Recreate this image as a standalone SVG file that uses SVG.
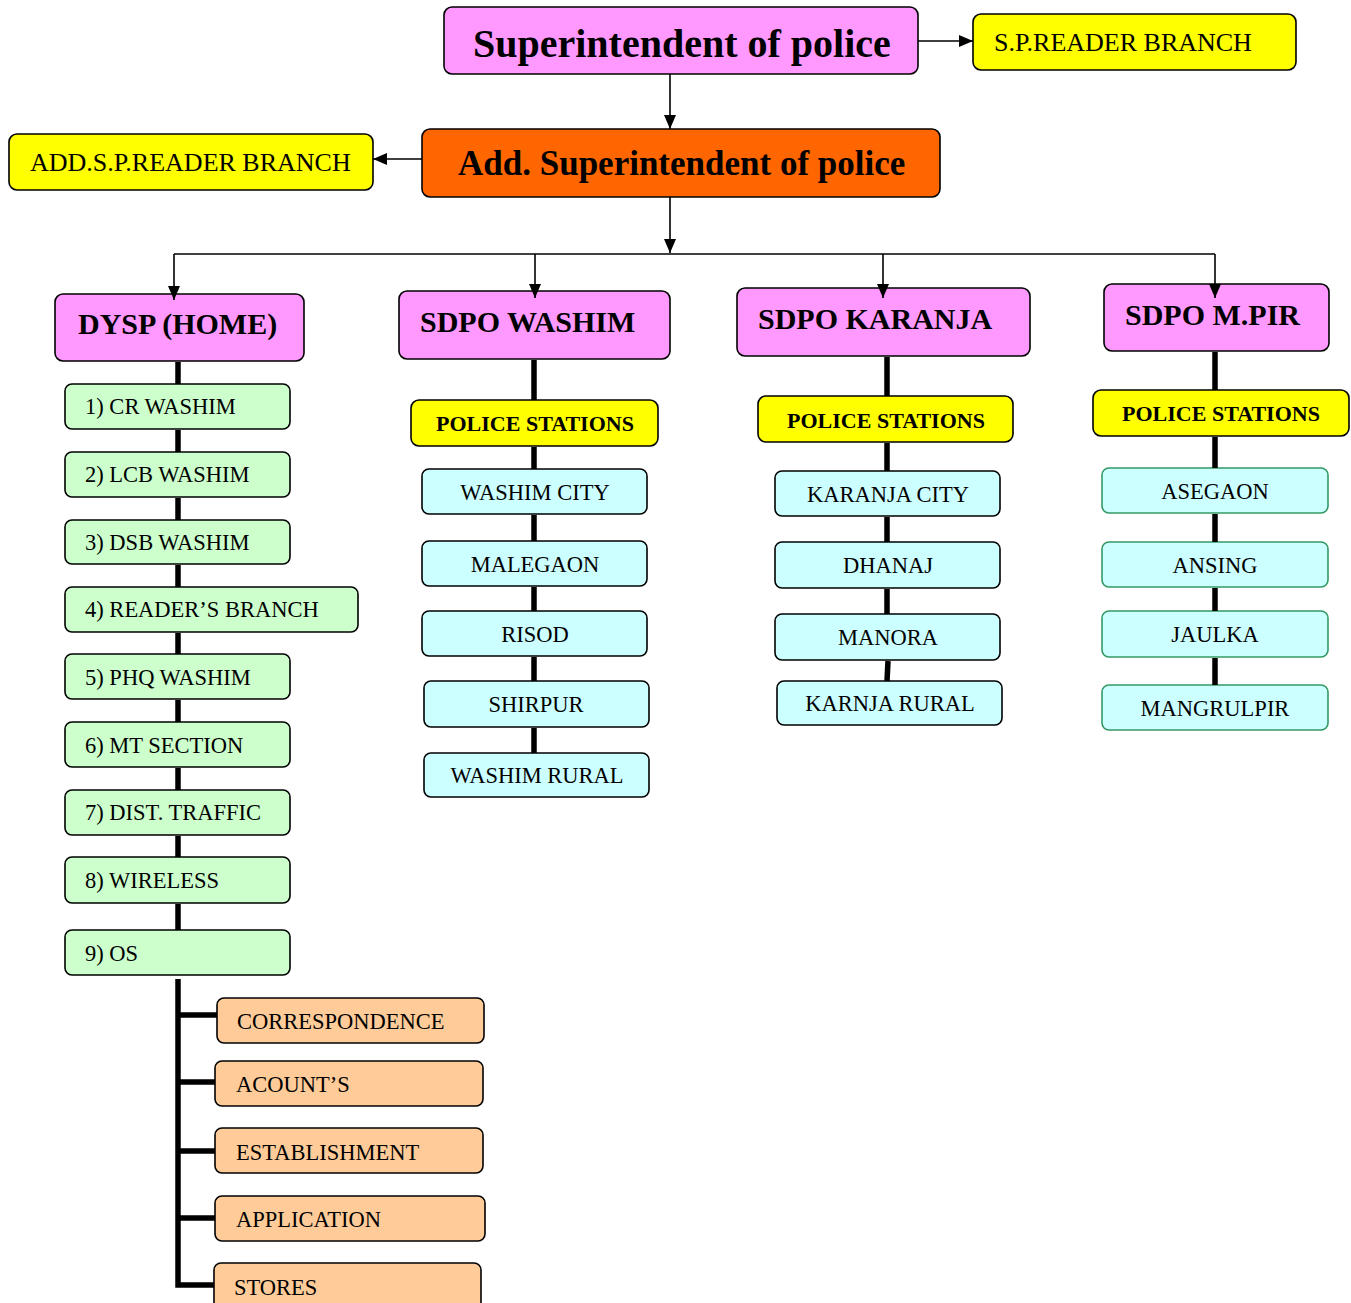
<svg xmlns="http://www.w3.org/2000/svg" width="1351" height="1303" viewBox="0 0 1351 1303">
<style>
rect{stroke:#000;stroke-width:1.6}
.pk{fill:#FF99FF}.or{fill:#FF6600}.ye{fill:#FFFF00}.gr{fill:#CCFFCC}.cy{fill:#CCFFFF}.cg{fill:#CCFFFF;stroke:#339966}.lo{fill:#FFCC99}
text{font-family:"Liberation Serif","Times New Roman",serif;fill:#000}
.h1{font-size:40px;font-weight:bold}
.h2{font-size:35px;font-weight:bold}
.h3{font-size:30px;font-weight:bold}
.ps{font-size:22px;font-weight:bold;text-anchor:middle}
.rd{font-size:26px}
.t{font-size:22.5px}
.c{font-size:22.5px;text-anchor:middle}
.thin{stroke:#000;stroke-width:1.6;fill:none}
.thick{stroke:#000;stroke-width:5.5;fill:none}
</style>
<defs>
<marker id="ah" viewBox="0 0 14 12" refX="14" refY="6" markerWidth="14" markerHeight="12" markerUnits="userSpaceOnUse" orient="auto">
<path d="M0,0 L14,6 L0,12 Z" fill="#000"/>
</marker>
</defs>
<g id="sp"><rect class="pk" x="444" y="7" width="474" height="67" rx="8"/><text class="h1" x="473" y="57">Superintendent of police</text></g>
<g id="sp-reader"><rect class="ye" x="973" y="14" width="323" height="56" rx="8"/><text class="rd" x="994" y="51">S.P.READER BRANCH</text></g>
<g id="asp"><rect class="or" x="422" y="129" width="518" height="68" rx="8"/><text class="h2" x="458" y="175">Add. Superintendent of police</text></g>
<g id="asp-reader"><rect class="ye" x="9" y="134" width="364" height="56" rx="8"/><text class="rd" x="30" y="171">ADD.S.P.READER BRANCH</text></g>
<g id="dysp"><rect class="pk" x="55" y="294" width="249" height="67" rx="8"/><text class="h3" x="78" y="334">DYSP (HOME)</text></g>
<g id="sdpo-washim"><rect class="pk" x="399" y="291" width="271" height="68" rx="8"/><text class="h3" x="420" y="332">SDPO WASHIM</text></g>
<g id="sdpo-karanja"><rect class="pk" x="737" y="288" width="293" height="68" rx="8"/><text class="h3" x="758" y="329">SDPO KARANJA</text></g>
<g id="sdpo-mpir"><rect class="pk" x="1104" y="284" width="225" height="67" rx="8"/><text class="h3" x="1125" y="325">SDPO M.PIR</text></g>
<g id="cr"><rect class="gr" x="65" y="384" width="225" height="45" rx="7"/><text class="t" x="85" y="414">1) CR WASHIM</text></g>
<g id="lcb"><rect class="gr" x="65" y="452" width="225" height="45" rx="7"/><text class="t" x="85" y="482">2) LCB WASHIM</text></g>
<g id="dsb"><rect class="gr" x="65" y="520" width="225" height="44" rx="7"/><text class="t" x="85" y="550">3) DSB WASHIM</text></g>
<g id="readers"><rect class="gr" x="65" y="587" width="293" height="45" rx="7"/><text class="t" x="85" y="617">4) READER’S BRANCH</text></g>
<g id="phq"><rect class="gr" x="65" y="654" width="225" height="45" rx="7"/><text class="t" x="85" y="685">5) PHQ WASHIM</text></g>
<g id="mt"><rect class="gr" x="65" y="722" width="225" height="45" rx="7"/><text class="t" x="85" y="753">6) MT SECTION</text></g>
<g id="traffic"><rect class="gr" x="65" y="790" width="225" height="45" rx="7"/><text class="t" x="85" y="820">7) DIST. TRAFFIC</text></g>
<g id="wireless"><rect class="gr" x="65" y="857" width="225" height="46" rx="7"/><text class="t" x="85" y="888">8) WIRELESS</text></g>
<g id="os"><rect class="gr" x="65" y="930" width="225" height="45" rx="7"/><text class="t" x="85" y="961">9) OS</text></g>
<g id="corr"><rect class="lo" x="217" y="998" width="267" height="45" rx="7"/><text class="t" x="237" y="1029">CORRESPONDENCE</text></g>
<g id="acc"><rect class="lo" x="215" y="1061" width="268" height="45" rx="7"/><text class="t" x="236" y="1092">ACOUNT’S</text></g>
<g id="est"><rect class="lo" x="215" y="1128" width="268" height="45" rx="7"/><text class="t" x="236" y="1160">ESTABLISHMENT</text></g>
<g id="app"><rect class="lo" x="215" y="1196" width="270" height="45" rx="7"/><text class="t" x="236" y="1227">APPLICATION</text></g>
<g id="stores"><rect class="lo" x="214" y="1263" width="267" height="50" rx="7"/><text class="t" x="234" y="1295">STORES</text></g>
<g id="ps-washim"><rect class="ye" x="411" y="400" width="247" height="46" rx="8"/><text class="ps" x="535" y="431">POLICE STATIONS</text></g>
<g id="washim-city"><rect class="cy" x="422" y="469" width="225" height="45" rx="7"/><text class="c" x="535" y="500">WASHIM CITY</text></g>
<g id="malegaon"><rect class="cy" x="422" y="541" width="225" height="45" rx="7"/><text class="c" x="535" y="572">MALEGAON</text></g>
<g id="risod"><rect class="cy" x="422" y="611" width="225" height="45" rx="7"/><text class="c" x="535" y="642">RISOD</text></g>
<g id="shirpur"><rect class="cy" x="424" y="681" width="225" height="46" rx="7"/><text class="c" x="536" y="712">SHIRPUR</text></g>
<g id="washim-rural"><rect class="cy" x="424" y="753" width="225" height="44" rx="7"/><text class="c" x="537" y="783">WASHIM RURAL</text></g>
<g id="ps-karanja"><rect class="ye" x="758" y="396" width="255" height="46" rx="8"/><text class="ps" x="886" y="428">POLICE STATIONS</text></g>
<g id="karanja-city"><rect class="cy" x="775" y="471" width="225" height="45" rx="7"/><text class="c" x="888" y="502">KARANJA CITY</text></g>
<g id="dhanaj"><rect class="cy" x="775" y="542" width="225" height="46" rx="7"/><text class="c" x="888" y="573">DHANAJ</text></g>
<g id="manora"><rect class="cy" x="775" y="614" width="225" height="46" rx="7"/><text class="c" x="888" y="645">MANORA</text></g>
<g id="karnja-rural"><rect class="cy" x="777" y="681" width="225" height="44" rx="7"/><text class="c" x="890" y="711">KARNJA RURAL</text></g>
<g id="ps-mpir"><rect class="ye" x="1093" y="390" width="256" height="46" rx="8"/><text class="ps" x="1221" y="421">POLICE STATIONS</text></g>
<g id="asegaon"><rect class="cg" x="1102" y="468" width="226" height="45" rx="7"/><text class="c" x="1215" y="499">ASEGAON</text></g>
<g id="ansing"><rect class="cg" x="1102" y="542" width="226" height="45" rx="7"/><text class="c" x="1215" y="573">ANSING</text></g>
<g id="jaulka"><rect class="cg" x="1102" y="611" width="226" height="46" rx="7"/><text class="c" x="1215" y="642">JAULKA</text></g>
<g id="mangrulpir"><rect class="cg" x="1102" y="685" width="226" height="45" rx="7"/><text class="c" x="1215" y="716">MANGRULPIR</text></g>
<g id="connectors">
<line class="thin" x1="918" y1="41" x2="973" y2="41" marker-end="url(#ah)"/>
<line class="thin" x1="670" y1="74" x2="670" y2="129" marker-end="url(#ah)"/>
<line class="thin" x1="422" y1="159" x2="373" y2="159" marker-end="url(#ah)"/>
<line class="thin" x1="670" y1="197" x2="670" y2="253" marker-end="url(#ah)"/>
<line class="thin" x1="174" y1="254" x2="1215" y2="254"/>
<line class="thin" x1="174" y1="254" x2="174" y2="300" marker-end="url(#ah)"/>
<line class="thin" x1="535" y1="254" x2="535" y2="298" marker-end="url(#ah)"/>
<line class="thin" x1="883" y1="254" x2="883" y2="298" marker-end="url(#ah)"/>
<line class="thin" x1="1215" y1="254" x2="1215" y2="298" marker-end="url(#ah)"/>
<path class="thick" d="M178,362 V384 M178,430 V452 M178,498 V520 M178,565 V587 M178,633 V654 M178,700 V722 M178,768 V790 M178,836 V857 M178,904 V930"/>
<path class="thick" d="M178,979 L178,1285 L214,1285 M178,1015 L217,1015 M178,1082 L215,1082 M178,1151 L215,1151 M178,1218 L215,1218"/>
<path class="thick" d="M534,360 V400 M534,447 V469 M534,515 V541 M534,587 V611 M534,657 V681 M534,728 V753"/>
<path class="thick" d="M887,357 V396 M887,443 V471 M887,517 V542 M887,589 V614 M888,661 L887,681"/>
<path class="thick" d="M1215,352 V390 M1215,437 V468 M1215,514 V542 M1215,588 V611 M1215,658 V685"/>
</g>
</svg>
